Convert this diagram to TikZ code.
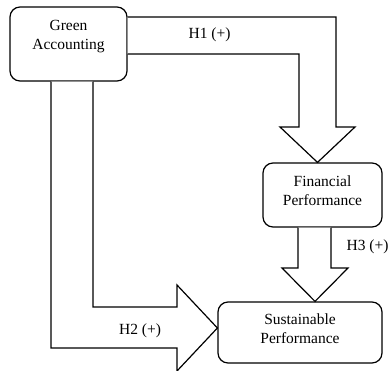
\documentclass[tikz,border=0pt]{standalone}
\usepackage{fontspec}
\setmainfont{Liberation Serif}
\begin{document}
\begin{tikzpicture}[x=1pt,y=-1pt, line width=1.2pt, line join=miter,
  box/.style={draw, rounded corners=10pt, fill=white, inner sep=0pt},
  boxtext/.style={align=center, inner sep=0pt, font=\fontsize{15.5}{19}\selectfont},
  blockarrow/.style={draw, fill=white},
  lbl/.style={font=\fontsize{15.5}{18}\selectfont, inner sep=0pt}]
\useasboundingbox (0,0) rectangle (388,370);
\node[box, minimum width=117pt, minimum height=74pt] (ga) at (68.5,44) {};
\node[boxtext] (gat) at ([yshift=7pt]ga.center) {Green\\Accounting};
\node[box, minimum width=119pt, minimum height=64pt] (fp) at (322.5,195) {};
\node[boxtext] (fpt) at ([yshift=4.5pt]fp.center) {Financial\\Performance};
\node[box, minimum width=164pt, minimum height=61pt] (sp) at (300,332.5) {};
\node[boxtext] (spt) at ([yshift=4pt]sp.center) {Sustainable\\Performance};
% H1
\filldraw[blockarrow] ([yshift=27pt]ga.east) -- (336,17) -- (336,127) -- (355,127)
  -- ([xshift=-5pt]fp.north) -- (280,127) -- (299,127) -- (299,54) -- ([yshift=-10pt]ga.east);
% H2
\filldraw[blockarrow] ([xshift=24.5pt]ga.south) -- (93,307) -- (177,307) -- (177,285)
  -- ([yshift=4.5pt]sp.west) -- (177,371) -- (177,348) -- (51,348) -- ([xshift=-17.5pt]ga.south);
% H3
\filldraw[blockarrow] ([xshift=-24.5pt]fp.south) -- (298,268) -- (282,268)
  -- ([xshift=15pt]sp.north) -- (348,268) -- (331,268) -- ([xshift=8.5pt]fp.south);
\node[lbl] (h1) at (209.5,35) {H1 (+)};
\node[lbl] (h2) at (140,331) {H2 (+)};
\node[lbl, anchor=west] (h3) at (346,247) {H3 (+)};
\end{tikzpicture}
\end{document}
